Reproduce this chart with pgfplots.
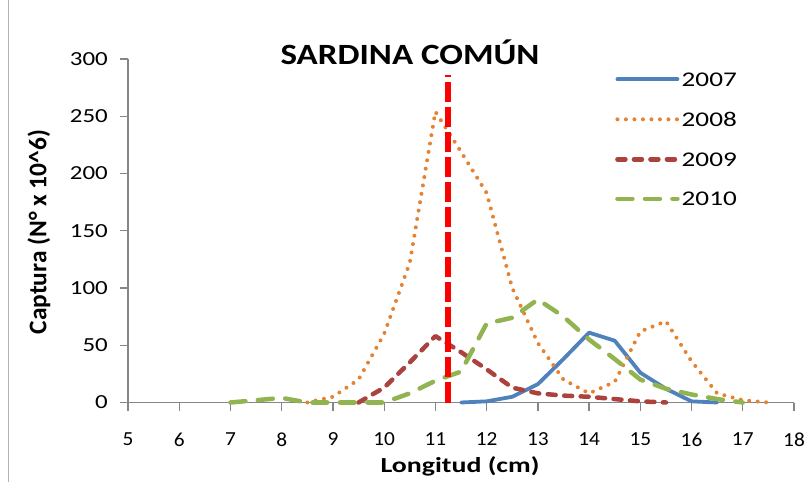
\documentclass[border=0pt]{standalone}
\usepackage{fontspec}
\setmainfont{Carlito}
\usepackage{graphicx}
\usepackage{pgfplots}
\pgfplotsset{compat=1.18}
\definecolor{c2007}{RGB}{79,129,189}
\definecolor{c2008}{RGB}{228,131,50}
\definecolor{c2009}{RGB}{172,66,62}
\definecolor{c2010}{RGB}{145,180,80}
\definecolor{axgray}{RGB}{134,134,134}
\begin{document}
\begin{tikzpicture}
\path[use as bounding box] (0,0) rectangle (808bp,482bp);
\draw[color=gray!60, line width=1bp] (8bp,0) -- (8bp,482bp);
\begin{axis}[
  at={(128bp,79.5bp)}, anchor=south west,
  scale only axis, width=666bp, height=343.5bp,
  xmin=5, xmax=18, ymin=0, ymax=300,
  xtick={5,6,...,18}, ytick={0,50,...,300},
  axis x line*=bottom, axis y line*=left,
  axis line style={-, color=axgray, line width=1.3bp},
  tick style={color=axgray, line width=1.3bp},
  major tick length=8bp, tick align=outside,
  clip=false,
  /pgf/number format/assume math mode=true,
  tick label style={font=\fontsize{20}{24}\selectfont, inner sep=0pt},
  xticklabel={\scalebox{1.07}[1]{\pgfmathprintnumber{\tick}}},
  yticklabel={\scalebox{1.25}[1]{\pgfmathprintnumber{\tick}}},
  xticklabel style={anchor=center, yshift=-29bp},
  yticklabel style={anchor=east, xshift=-12bp},
  xlabel={\scalebox{1.3}[1]{\textbf{Longitud (cm)}}},
  ylabel={\textbf{Captura (N° x 10\textasciicircum 6)}},
  xlabel style={font=\fontsize{21.5}{25}\selectfont, at={(axis description cs:0.4985,-0.186)}, anchor=center},
  ylabel style={font=\fontsize{25.5}{30}\selectfont, at={(axis description cs:-0.1336,0.4958)}, anchor=center},
  legend style={at={(axis description cs:0.7312,0.961)}, anchor=north west,
    draw=none, fill=none, font=\fontsize{21}{24}\selectfont,
    row sep=26bp, column sep=2bp, inner sep=0pt,
    nodes={inner sep=0pt, text depth=0pt}},
  legend cell align=left,
  legend image code/.code={\draw[#1] (0bp,0bp) -- (60bp,0bp);},
]
\addplot[color=c2007, line width=3.8bp, line cap=round, line join=round] coordinates {
(11.5,0) (12,1) (12.5,5) (13,16) (13.5,38) (14,61) (14.5,54) (15,26) (15.5,12) (16,1) (16.5,0)};
\addlegendentry{\scalebox{1.3}[1]{2007}}
\addplot[color=c2008, line width=4bp, line cap=round, dash pattern=on 0bp off 8.5bp] coordinates {
(8.5,0) (9,5) (9.5,20) (10,60) (10.5,122) (11,254) (11.5,219) (12,183) (12.5,100) (13,52) (13.5,20) (14,8) (14.5,18) (15,62) (15.5,71) (16,36) (16.5,8) (17,2) (17.5,0)};
\addlegendentry{\scalebox{1.3}[1]{2008}}
\addplot[color=c2009, line width=4.5bp, line cap=round, line join=round, dash pattern=on 8bp off 8.5bp] coordinates {
(9.5,0) (10,13) (10.5,35) (11,58) (11.5,44) (12,29) (12.5,13) (13,8) (13.5,6) (14,5) (14.5,3) (15,1) (15.5,0)};
\addlegendentry{\scalebox{1.3}[1]{2009}}
\addplot[color=c2010, line width=4.5bp, line cap=round, line join=round, dash pattern=on 15bp off 12.5bp] coordinates {
(7,0) (7.5,2) (8,4) (8.5,0) (9,0) (9.5,0) (10,0) (10.5,8) (11,19) (11.5,27) (12,69) (12.5,74) (13,90) (13.5,75) (14,55) (14.5,38) (15,20) (15.5,12) (16,7) (16.5,3) (17,0)};
\addlegendentry{\scalebox{1.3}[1]{2010}}
\addplot[color=red, line width=5.5bp, dash pattern=on 20bp off 5bp, forget plot] coordinates {(11.25,0) (11.25,286)};
\end{axis}
\node[font=\bfseries\fontsize{29.5}{34}\selectfont] at (410bp,430bp) {\scalebox{1.19}[1]{SARDINA COMÚN}};
\end{tikzpicture}
\end{document}
